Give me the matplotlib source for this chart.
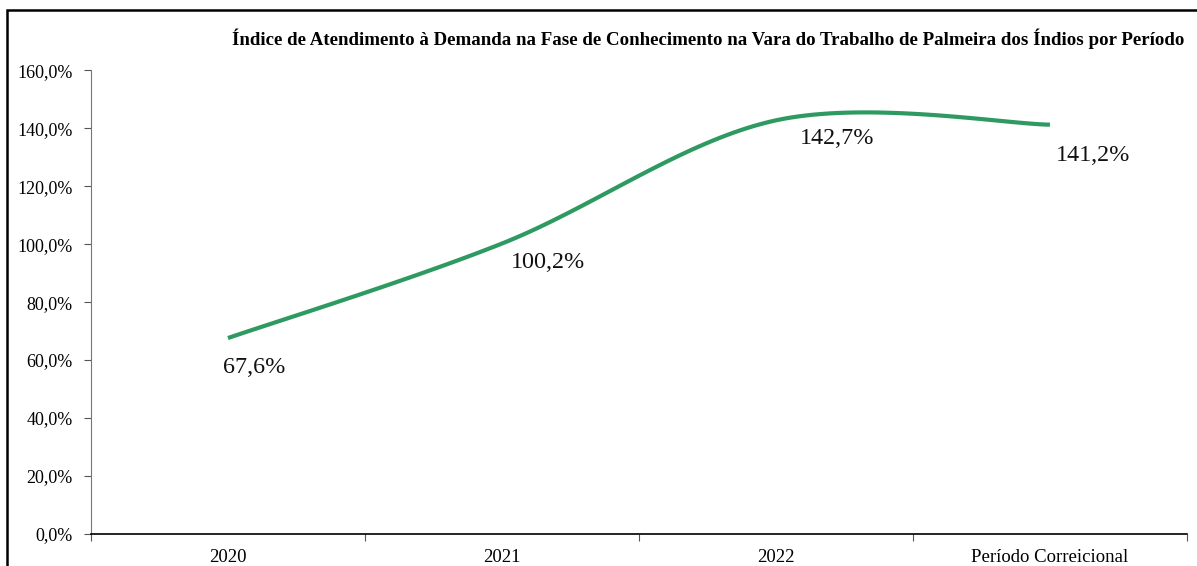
import numpy as np
import matplotlib
matplotlib.use("Agg")
import matplotlib.pyplot as plt
from matplotlib.patches import Rectangle
from matplotlib.ticker import FuncFormatter


TITLE = ("Índice de Atendimento à Demanda na Fase de Conhecimento na Vara do "
         "Trabalho de Palmeira dos Índios por Período")
CATEGORIES = ["2020", "2021", "2022", "Período Correicional"]
VALUES = [67.6, 100.2, 142.7, 141.2]
LABELS = ["67,6%", "100,2%", "142,7%", "141,2%"]

LINE_COLOR = "#2E9A62"


def smooth(xs, ys, steps=40):
    # Excel-style smoothed line: cubic Bezier through the points
    xs = np.asarray(xs, float)
    ys = np.asarray(ys, float)
    n = len(xs)
    out_x, out_y = [], []
    for i in range(n - 1):
        p0 = (xs[max(i - 1, 0)], ys[max(i - 1, 0)])
        p1 = (xs[i], ys[i])
        p2 = (xs[i + 1], ys[i + 1])
        p3 = (xs[min(i + 2, n - 1)], ys[min(i + 2, n - 1)])
        c1 = (p1[0] + (p2[0] - p0[0]) / 6, p1[1] + (p2[1] - p0[1]) / 6)
        c2 = (p2[0] - (p3[0] - p1[0]) / 6, p2[1] - (p3[1] - p1[1]) / 6)
        t = np.linspace(0, 1, steps)
        bx = (1 - t) ** 3 * p1[0] + 3 * (1 - t) ** 2 * t * c1[0] + 3 * (1 - t) * t ** 2 * c2[0] + t ** 3 * p2[0]
        by = (1 - t) ** 3 * p1[1] + 3 * (1 - t) ** 2 * t * c1[1] + 3 * (1 - t) * t ** 2 * c2[1] + t ** 3 * p2[1]
        out_x.extend(bx)
        out_y.extend(by)
    return np.array(out_x), np.array(out_y)


def main():
    plt.rcParams["font.family"] = ["Liberation Serif", "DejaVu Serif"]

    fig = plt.figure(figsize=(11.97, 5.66), dpi=100)
    ax = fig.add_axes([0.076, 0.0565, 0.9156, 0.8195])

    x = np.arange(len(CATEGORIES))
    sx, sy = smooth(x, VALUES)
    ax.plot(sx, sy, color=LINE_COLOR, linewidth=3.0, solid_capstyle="butt")

    offsets = [(19, -21), (33, -14), (44, -13), (31, -22)]
    for xi, yi, lab, off in zip(x, VALUES, LABELS, offsets):
        ax.annotate(lab, (xi, yi), xytext=off, textcoords="offset points",
                    ha="center", va="center", fontsize=17.4, color="#111111")

    ax.set_xlim(-0.5, len(CATEGORIES) - 0.5)
    ax.set_ylim(0, 160)
    ax.set_yticks(np.arange(0, 161, 20))
    ax.yaxis.set_major_formatter(FuncFormatter(lambda v, p: f"{v:.1f}%".replace(".", ",")))

    ax.set_xticks(np.arange(-0.5, len(CATEGORIES), 1.0))
    ax.set_xticklabels([])
    ax.set_xticks(x, minor=True)
    ax.set_xticklabels(CATEGORIES, minor=True)
    ax.tick_params(axis="x", which="minor", length=0, labelsize=13.5, pad=11)
    ax.tick_params(axis="x", which="major", length=5, direction="out", color="#555555")
    ax.tick_params(axis="y", length=5, direction="out", labelsize=13, color="#555555", pad=8)

    for side in ("top", "right"):
        ax.spines[side].set_visible(False)
    ax.spines["left"].set_color("#777777")
    ax.spines["bottom"].set_color("black")
    ax.spines["bottom"].set_linewidth(1.2)

    fig.text(0.5915, 0.932, TITLE, ha="center", va="center",
             fontsize=13.6, fontweight="bold")

    fig.patches.append(Rectangle((7 / 1197, -0.1), 1.2, (566 - 10) / 566 + 0.1,
                                 transform=fig.transFigure, fill=False,
                                 edgecolor="black", linewidth=1.8))

    fig.savefig("out.png", dpi=100)
    plt.close(fig)


if __name__ == "__main__":
    main()
